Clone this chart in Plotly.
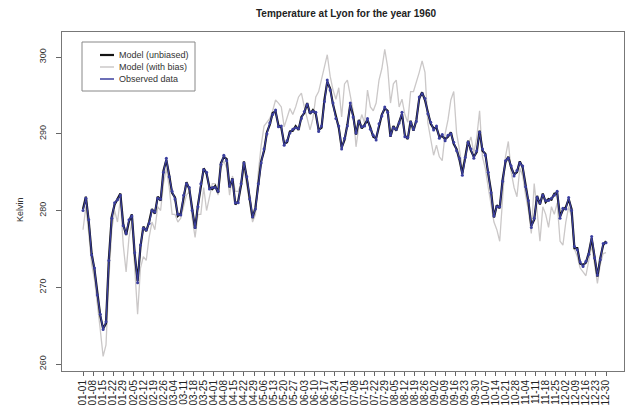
import pandas as pd
import plotly.graph_objects as go

# ---------------- data ----------------
START_DATE = "1960-01-01"
N_POINTS = 183          # one reading every 2 days
STEP = "2D"

observed = [
    280.0, 281.6, 278.8, 274.2, 272.5, 269.0, 266.5, 264.5, 265.5, 273.5,
    279.0, 281.0, 281.4, 282.0, 278.0, 277.0, 278.8, 279.3, 274.5, 270.6,
    275.5, 277.7, 277.5, 278.3, 280.0, 279.8, 281.6, 281.5, 285.0, 286.8,
    284.4, 282.5, 281.5, 279.5, 279.4, 282.0, 283.5, 283.0, 280.0, 277.8,
    280.5, 283.5, 285.3, 285.0, 282.8, 283.0, 283.0, 282.5, 286.0, 287.2,
    286.5, 283.2, 284.0, 281.0, 281.0, 283.5, 286.2, 284.4, 281.5, 279.2,
    280.2, 283.5, 286.2, 288.0, 290.0, 291.4, 292.5, 293.1, 290.9, 291.0,
    288.5, 289.1, 290.1, 290.6, 290.8, 290.7, 292.0, 292.9, 293.8, 292.8,
    292.9, 292.8, 290.3, 291.0, 294.2, 297.0, 295.7, 294.0, 292.0, 291.0,
    288.0, 289.4, 291.0, 294.0, 292.2, 290.1, 291.6, 290.9, 291.0, 292.0,
    290.6, 289.8, 289.2, 291.3, 292.3, 293.5, 292.8, 289.8, 290.8, 290.6,
    291.4, 292.8, 289.6, 289.5, 291.5, 290.6, 291.6, 294.8, 295.2, 294.6,
    292.6, 291.5, 290.5, 291.0, 289.4, 289.9, 289.1, 289.8, 290.0, 288.9,
    287.8, 286.8, 284.6, 286.9, 288.9, 288.0, 286.8, 287.8, 290.2, 288.0,
    287.2, 285.0, 282.3, 279.3, 280.5, 280.5, 283.8, 286.5, 286.8, 285.8,
    284.5, 285.2, 286.2, 285.8, 283.1, 281.3, 277.8, 279.0, 281.7, 281.0,
    282.0, 281.3, 281.3, 281.6, 282.0, 282.5, 279.0, 280.3, 280.2, 281.7,
    280.0, 275.3, 274.9, 273.3, 272.7, 273.4, 274.3, 276.6, 273.8, 271.6,
    273.6, 275.7, 275.8,
]

model_unbiased = [
    280.2, 281.8, 278.6, 274.4, 272.3, 269.2, 266.3, 264.6, 265.3, 273.7,
    279.2, 280.8, 281.6, 282.2, 278.2, 276.8, 278.6, 279.5, 274.3, 270.8,
    275.3, 277.9, 277.3, 278.5, 280.2, 279.6, 281.8, 281.3, 285.2, 286.6,
    284.6, 282.3, 281.7, 279.3, 279.6, 281.8, 283.7, 282.8, 280.2, 277.6,
    280.7, 283.3, 285.5, 284.8, 283.0, 282.8, 283.2, 282.3, 286.2, 287.0,
    286.7, 283.0, 284.2, 280.8, 281.2, 283.3, 286.4, 284.2, 281.7, 279.0,
    280.4, 283.3, 286.4, 287.8, 290.2, 291.2, 292.7, 292.9, 291.1, 290.8,
    288.7, 288.9, 290.3, 290.4, 291.0, 290.5, 292.2, 292.7, 294.0, 292.6,
    293.1, 292.6, 290.5, 290.8, 294.4, 296.8, 295.9, 293.8, 292.2, 290.8,
    288.2, 289.2, 291.2, 293.8, 292.4, 289.9, 291.8, 290.7, 291.2, 291.8,
    290.8, 289.6, 289.4, 291.1, 292.5, 293.3, 293.0, 289.6, 291.0, 290.4,
    291.6, 292.6, 289.8, 289.3, 291.7, 290.4, 291.8, 294.6, 295.4, 294.4,
    292.8, 291.3, 290.7, 290.8, 289.6, 289.7, 289.3, 289.6, 290.2, 288.7,
    288.0, 286.6, 284.8, 286.7, 289.1, 287.8, 287.0, 287.6, 290.4, 287.8,
    287.4, 284.8, 282.5, 279.1, 280.7, 280.3, 284.0, 286.3, 287.0, 285.6,
    284.7, 285.0, 286.4, 285.6, 283.3, 281.1, 278.0, 278.8, 281.9, 280.8,
    282.2, 281.1, 281.5, 281.4, 282.2, 282.3, 279.2, 280.1, 280.4, 281.5,
    280.2, 275.1, 275.1, 273.1, 272.9, 273.2, 274.5, 276.4, 274.0, 271.4,
    273.8, 275.5, 276.0,
]

model_with_bias = [
    277.5, 280.5, 277.0, 273.0, 271.0, 268.0, 264.5, 261.0, 262.5, 271.0,
    277.5, 280.0, 278.5, 281.5, 275.5, 272.0, 276.5, 278.5, 272.5, 266.5,
    272.5, 274.0, 273.5, 276.5, 278.5, 277.5, 280.5, 280.0, 283.5, 285.5,
    283.0, 279.5, 279.5, 278.5, 279.0, 280.5, 282.0, 282.5, 279.0, 276.5,
    279.5, 279.5, 283.0, 280.0, 282.0, 283.5, 283.5, 282.0, 285.5, 286.5,
    285.5, 282.0, 284.5, 282.5, 282.5, 283.5, 285.5, 283.5, 281.0, 278.5,
    279.5, 285.0, 288.5, 291.0, 291.5, 292.0, 293.0, 294.4, 294.0, 293.5,
    290.9, 292.0, 293.3, 292.5, 293.5, 294.8, 295.3, 293.5, 292.0, 290.5,
    292.0, 294.8, 295.5, 297.0, 298.8, 300.3, 297.5, 295.7, 294.5, 296.0,
    292.2, 296.5, 297.0, 295.0, 293.0, 288.3, 291.0, 292.5, 291.4, 295.7,
    293.5, 293.0, 294.0, 297.0, 298.5, 301.0, 298.7, 294.0, 296.5, 297.0,
    293.5, 294.5, 292.5, 291.5, 295.5, 295.5, 296.6, 298.0, 299.5, 298.0,
    291.4, 289.0, 287.2, 288.5, 287.0, 286.5, 290.0, 291.8, 294.4, 295.5,
    290.1, 287.9, 285.5, 286.5, 288.5, 289.6, 287.5, 289.5, 293.0, 287.0,
    285.5, 283.0, 281.0, 278.5, 277.5, 276.0, 281.5, 287.0, 289.0, 285.0,
    283.0, 281.8, 285.5, 284.5, 282.0, 280.0, 277.0, 283.5, 280.0, 276.0,
    280.5, 279.5, 277.8, 280.5, 279.5, 281.0, 276.0, 275.5, 278.5, 280.5,
    279.2, 275.0, 274.0, 272.5, 272.0, 271.5, 273.5, 275.5, 273.0, 270.5,
    273.0, 274.4, 274.5,
]

series_names = ["Model (unbiased)", "Model (with bias)", "Observed data"]
y_tick_values = [260, 270, 280, 290, 300]
TICK_START = "1960-01-01"
TICK_END = "1960-12-30"
TICK_STEP = "7D"

# ---------------- figure ----------------
dates = pd.date_range(START_DATE, periods=N_POINTS, freq=STEP)
tick_dates = pd.date_range(TICK_START, TICK_END, freq=TICK_STEP)
tick_text = [d.strftime("%m-%d") for d in tick_dates]

C_BLACK = "#141414"
C_GRAY = "#cbc8c8"
C_BLUE = "#3b3f9f"
FONT = "Liberation Sans, Arial, Helvetica, sans-serif"

fig = go.Figure()
fig.add_trace(go.Scatter(x=dates, y=model_with_bias, mode="lines",
                         line=dict(color=C_GRAY, width=1.3),
                         name=series_names[1], showlegend=False))
fig.add_trace(go.Scatter(x=dates, y=model_unbiased, mode="lines",
                         line=dict(color=C_BLACK, width=2.2),
                         name=series_names[0], showlegend=False))
fig.add_trace(go.Scatter(x=dates, y=observed, mode="lines+markers",
                         line=dict(color=C_BLUE, width=1.2),
                         marker=dict(color=C_BLUE, size=3),
                         name=series_names[2], showlegend=False))

W, H = 629, 414
L, R, T, B = 62, 5, 32, 43
plot_w = W - L - R
plot_h = H - T - B

def px_x(px):
    return (px - L) / plot_w

def px_y(py):
    return (H - B - py) / plot_h

# manual legend (R-style)
shapes = [dict(type="rect", xref="paper", yref="paper",
               x0=px_x(82), x1=px_x(195), y0=px_y(91), y1=px_y(42),
               line=dict(color="#888", width=1), fillcolor="white")]
annotations = []
legend_rows = [(series_names[0], C_BLACK, 2.2, 55),
               (series_names[1], C_GRAY, 1.5, 67),
               (series_names[2], C_BLUE, 1.5, 79)]
for name, col, w, py in legend_rows:
    shapes.append(dict(type="line", xref="paper", yref="paper",
                       x0=px_x(100), x1=px_x(114), y0=px_y(py), y1=px_y(py),
                       line=dict(color=col, width=w)))
    annotations.append(dict(text=name, xref="paper", yref="paper",
                            x=px_x(117), y=px_y(py), xanchor="left",
                            yanchor="middle", showarrow=False,
                            font=dict(size=9, color="#333", family=FONT)))

annotations.append(dict(text="Kelvin", xref="paper", yref="paper",
                        x=px_x(20), y=px_y(210), textangle=-90,
                        showarrow=False, xanchor="center", yanchor="middle",
                        font=dict(size=9, color="#333", family=FONT)))

fig.update_layout(
    width=W, height=H,
    margin=dict(l=L, r=R, t=T, b=B, autoexpand=False),
    paper_bgcolor="white", plot_bgcolor="white",
    title=dict(text="<b>Temperature at Lyon for the year 1960</b>",
               x=px_x(346), xref="paper", xanchor="center",
               y=1 - 13 / H, yanchor="middle",
               font=dict(size=10, color="#222", family=FONT)),
    font=dict(family=FONT, color="#222"),
    shapes=shapes,
    annotations=annotations,
    showlegend=False,
    hovermode=False,
)

x0 = pd.Timestamp(START_DATE)
fig.update_xaxes(
    type="date",
    range=[x0 - pd.Timedelta(days=14.62), x0 + pd.Timedelta(days=376.5)],
    tickmode="array", tickvals=tick_dates, ticktext=tick_text,
    tickangle=-90, tickfont=dict(size=10, color="#222"),
    ticks="outside", ticklen=4, tickcolor="#666",
    showline=True, mirror=True, linecolor="#777", linewidth=1,
    showgrid=False, zeroline=False,
)
fig.update_yaxes(
    range=[259.09, 303.26],
    tickmode="array", tickvals=y_tick_values,
    tickangle=-90, tickfont=dict(size=9, color="#333"),
    ticks="outside", ticklen=5, tickcolor="#666",
    ticklabelstandoff=6,
    showline=True, mirror=True, linecolor="#777", linewidth=1,
    showgrid=False, zeroline=False,
)

fig.write_html(
    "out.html",
    config={"displayModeBar": False},
    post_script="document.body.style.margin='0px';document.body.style.padding='0px';",
)
